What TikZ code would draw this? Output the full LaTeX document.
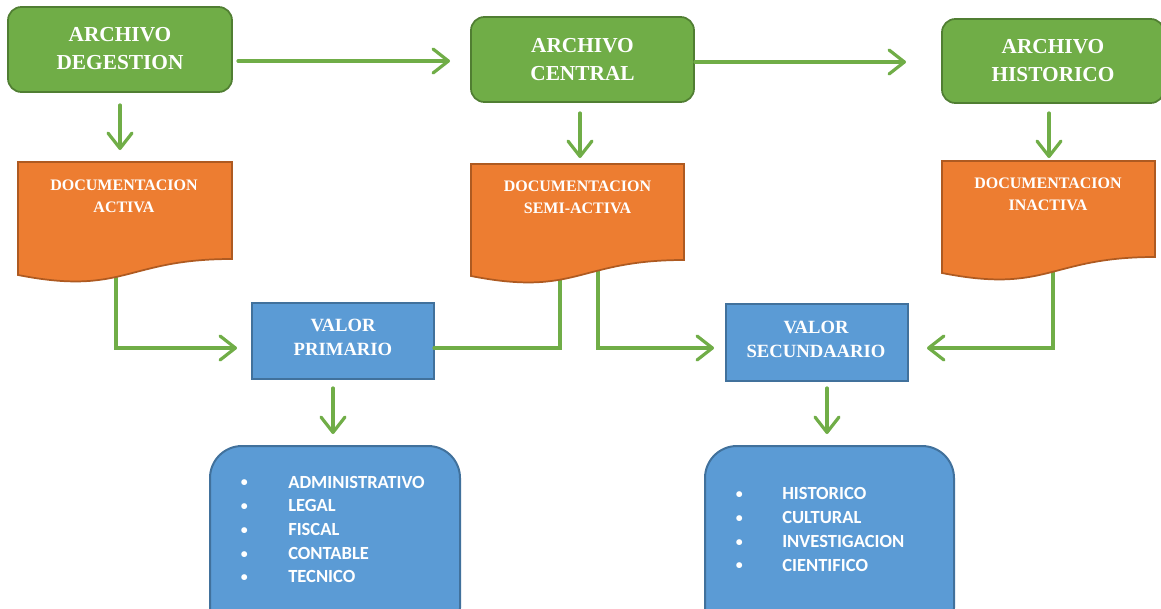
\documentclass[tikz,border=0pt]{standalone}
\usepackage{fontspec}
\setmainfont{Liberation Serif}
\newfontfamily\listfont{Carlito}
\usetikzlibrary{arrows.meta,fit}
\definecolor{gfill}{HTML}{70AD47}
\definecolor{gline}{HTML}{507E32}
\definecolor{ofill}{HTML}{ED7D31}
\definecolor{oline}{HTML}{AE5A21}
\definecolor{bfill}{HTML}{5B9BD5}
\definecolor{bline}{HTML}{41719C}
% small list bullet followed by a fixed indent
\newcommand{\listitem}[1]{\makebox[#1][l]{\hspace{1.2pt}\raisebox{0.9pt}{\scalebox{0.75}{\textbullet}}}}

\begin{document}
\begin{tikzpicture}[x=0.75pt,y=-0.75pt,
  flow/.style={draw=gfill, line width=2.4pt, line cap=round},
  arr/.style={flow, -{Straight Barb[length=11.5pt,width=18pt,round]}},
  greenbox/.style={draw=gline, fill=gfill, line width=1.3pt, rounded corners=10pt, inner sep=0pt},
  docbox/.style={draw=oline, fill=ofill, line width=1.3pt},
  bluebox/.style={draw=bline, fill=bfill, line width=1.5pt, inner sep=0pt},
  listbox/.style={bluebox, rounded corners=24pt},
  titletext/.style={text=white, font=\fontsize{16}{21}\selectfont\bfseries, align=center, inner sep=0pt},
  doctext/.style={text=white, font=\fontsize{12}{16.5}\selectfont\bfseries, align=center, inner sep=0pt},
  valtext/.style={text=white, font=\fontsize{14}{18.5}\selectfont\bfseries, align=center, inner sep=0pt},
  listtext/.style={text=white, font=\listfont\fontsize{13.9}{17.8}\selectfont\bfseries, align=left, inner sep=0pt, anchor=west},
]
\useasboundingbox (0,0) rectangle (1161,608);

% ---- archive boxes ----
\node[greenbox, fit={(8,7) (232,92)}] (ag) {};
\node[greenbox, fit={(471,17) (694,102)}] (ac) {};
\node[greenbox, fit={(942,19) (1164,103)}] (ah) {};

% ---- value boxes ----
\node[bluebox, fit={(252,303) (434,379)}] (vp) {};
\node[bluebox, fit={(726,304) (908,381)}] (vs) {};

% ---- list boxes ----
\node[listbox, fit={(210,446) (460,640)}] (lp) {};
\node[listbox, fit={(705,446) (954,640)}] (ls) {};

% ---- connector end points ----
\coordinate (ag-out) at (238,61);   \coordinate (ac-in) at (450,61);
\coordinate (ac-out) at (695,62);   \coordinate (ah-in) at (906,62);
\coordinate (ag-down) at (120,105); \coordinate (d1-in) at (120,150);
\coordinate (ac-down) at (580,113); \coordinate (d2-in) at (580,158);
\coordinate (ah-down) at (1049,113);\coordinate (d3-in) at (1049,158);
\coordinate (d1-out) at (116,265);
\coordinate (d2-outa) at (560,265);
\coordinate (d2-outb) at (598,255);
\coordinate (d3-out) at (1053,255);
\coordinate (vp-in) at (237,348);
\coordinate (vp-r) at (434,348);
\coordinate (vs-inl) at (714,348);
\coordinate (vs-inr) at (927,348);
\coordinate (vp-down) at (333,388); \coordinate (lp-in) at (333,434);
\coordinate (vs-down) at (827,388); \coordinate (ls-in) at (827,434);

% ---- connectors ----
\draw[arr] (ag-out) -- (ac-in);
\draw[arr] (ac-out) -- (ah-in);
\draw[arr] (ag-down) -- (d1-in);
\draw[arr] (ac-down) -- (d2-in);
\draw[arr] (ah-down) -- (d3-in);
\draw[arr] (d1-out) |- (vp-in);
\draw[flow] (d2-outa) |- (vp-r);
\draw[arr] (d2-outb) |- (vs-inl);
\draw[arr] (d3-out) |- (vs-inr);
\draw[arr] (vp-down) -- (lp-in);
\draw[arr] (vs-down) -- (ls-in);

% ---- document shapes (wavy bottom) ----
\draw[docbox] (18,162) -- (232,162) -- (232,259) .. controls (125,259) and (125,296) .. (18,275) -- cycle;
\draw[docbox] (471,164) -- (684,164) -- (684,260) .. controls (577.5,260) and (577.5,297) .. (471,276) -- cycle;
\draw[docbox] (942,161) -- (1155,161) -- (1155,257) .. controls (1048.5,257) and (1048.5,294) .. (942,273) -- cycle;

% ---- texts ----
\node[titletext] (ag-t) at (120,49) {ARCHIVO\\DEGESTION};
\node[titletext] (ac-t) at (582.5,59.5) {ARCHIVO\\CENTRAL};
\node[titletext] (ah-t) at (1053,61) {ARCHIVO\\HISTORICO};

\node[doctext] (d1-t) at (124,196) {DOCUMENTACION\\ACTIVA};
\node[doctext] (d2-t) at (577.5,197.5) {DOCUMENTACION\\SEMI-ACTIVA};
\node[doctext] (d3-t) at (1048,194) {DOCUMENTACION\\INACTIVA};

\node[valtext] (vp-t) at (343,337.5) {VALOR\\PRIMARIO};
\node[valtext] (vs-t) at (816,339.5) {VALOR\\SECUNDAARIO};

\node[listtext] (lp-t) at (239,529.5) {%
  \listitem{36.75pt}ADMINISTRATIVO\\
  \listitem{36.75pt}LEGAL\\
  \listitem{36.75pt}FISCAL\\
  \listitem{36.75pt}CONTABLE\\
  \listitem{36.75pt}TECNICO};
\node[listtext] (ls-t) at (734,529.5) {%
  \listitem{36pt}HISTORICO\\
  \listitem{36pt}CULTURAL\\
  \listitem{36pt}INVESTIGACION\\
  \listitem{36pt}CIENTIFICO};
\end{tikzpicture}
\end{document}
